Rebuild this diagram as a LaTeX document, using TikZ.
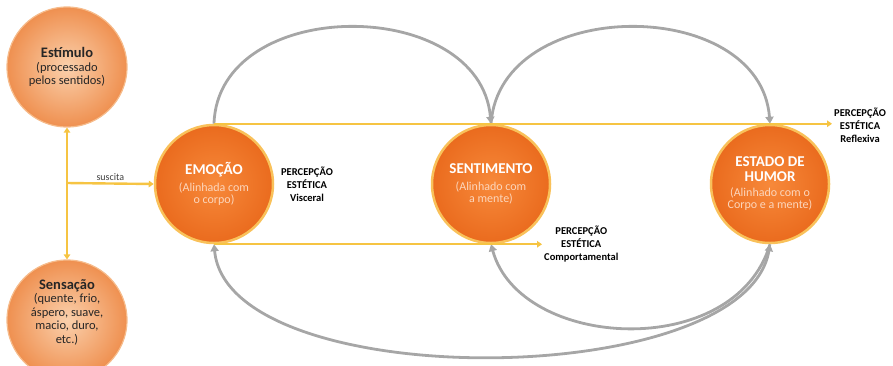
\documentclass[tikz,border=0pt]{standalone}
\usepackage{fontspec}
\setmainfont{Carlito}
\usetikzlibrary{arrows.meta}
\definecolor{peachin}{HTML}{FAD0AC}
\definecolor{peachout}{HTML}{EF9050}
\definecolor{peachrim}{HTML}{F6BC8C}
\definecolor{corein}{HTML}{F7893A}
\definecolor{coreout}{HTML}{EA6B1E}
\definecolor{corerim}{HTML}{F9C15A}
\definecolor{coresub}{HTML}{FCD6BC}
\definecolor{linegold}{HTML}{F6C443}
\definecolor{arcgray}{HTML}{A6A6A6}

\begin{document}
\begin{tikzpicture}[
  x=1pt, y=-1pt,
  side/.style={circle, draw=peachrim, line width=1.2pt, inner color=peachin,
               outer color=peachout, minimum size=120pt, inner sep=0pt,
               align=center, font=\fontsize{12.5}{13.5}\selectfont, text=black!85},
  core/.style={circle, draw=corerim, line width=2.5pt, inner color=corein,
               outer color=coreout, minimum size=118pt, inner sep=0pt,
               align=center, font=\fontsize{12}{12.5}\selectfont, text=coresub},
  tag/.style={align=center, font=\fontsize{10.5}{13}\selectfont\bfseries, inner sep=2pt},
  ylw/.style={line width=2.4pt, draw=linegold, -{Triangle[length=5pt,width=6.5pt]}},
  gry/.style={line width=2.8pt, draw=arcgray, -{Triangle[length=7pt,width=8pt]}}
]
\useasboundingbox (0,0) rectangle (893,365);
\node[side] (stim) at (67,67)  {{\fontsize{14.5}{16}\selectfont\bfseries Estímulo}\\(processado\\pelos sentidos)};
\node[side] (sens) at (67,320) {{\fontsize{14.5}{16}\selectfont\bfseries Sensação}\\(quente, frio,\\áspero, suave,\\macio, duro,\\etc.)\\[4pt]\mbox{}};
\node[core] (emo)  at (214,184) {{\fontsize{15}{16}\selectfont\bfseries\color{white}EMOÇÃO}\\[4pt](Alinhada com\\o corpo)};
\node[core] (sent) at (491,184) {{\fontsize{15}{16}\selectfont\bfseries\color{white}SENTIMENTO}\\[4pt](Alinhado com\\a mente)};
\node[core] (est)  at (770,184) {{\fontsize{15}{16}\selectfont\bfseries\color{white}ESTADO DE}\\[2.5pt]{\fontsize{15}{16}\selectfont\bfseries\color{white}HUMOR}\\[2pt](Alinhado com o\\Corpo e a mente)};
\node[tag] (visc) at (307,184) {PERCEPÇÃO\\ESTÉTICA\\Visceral};
\node[tag, anchor=west] (comp) at (542,244) {PERCEPÇÃO\\ESTÉTICA\\Comportamental};
\node[tag, anchor=west] (refl) at (832,125) {PERCEPÇÃO\\ESTÉTICA\\Reflexiva};
\coordinate (fork) at (67,183);
\draw[gry] (emo.north) .. controls (218,-5) and (480,-5) .. (sent.north);
\draw[gry] (sent.north) .. controls (500,-5) and (760,-5) .. (est.north);
\draw[gry, {Triangle[length=7pt,width=8pt]}-{Triangle[length=7pt,width=8pt]}]
  (est.south) .. controls (745,392) and (228,395) .. (emo.south);
\draw[gry] (est.south) .. controls (735,362) and (520,350) .. (sent.south);
\draw[ylw] (emo.north) -- (emo.north -| refl.west);
\draw[ylw] (emo.south) -- (emo.south -| comp.west);
\draw[ylw, {Triangle[length=5pt,width=6.5pt]}-{Triangle[length=5pt,width=6.5pt]}] (stim.south) -- (sens.north);
\draw[ylw] (fork) -- node[above, font=\fontsize{10}{11}\selectfont, text=black!75, inner sep=2pt]{suscita} (emo.west);
\end{tikzpicture}
\end{document}
